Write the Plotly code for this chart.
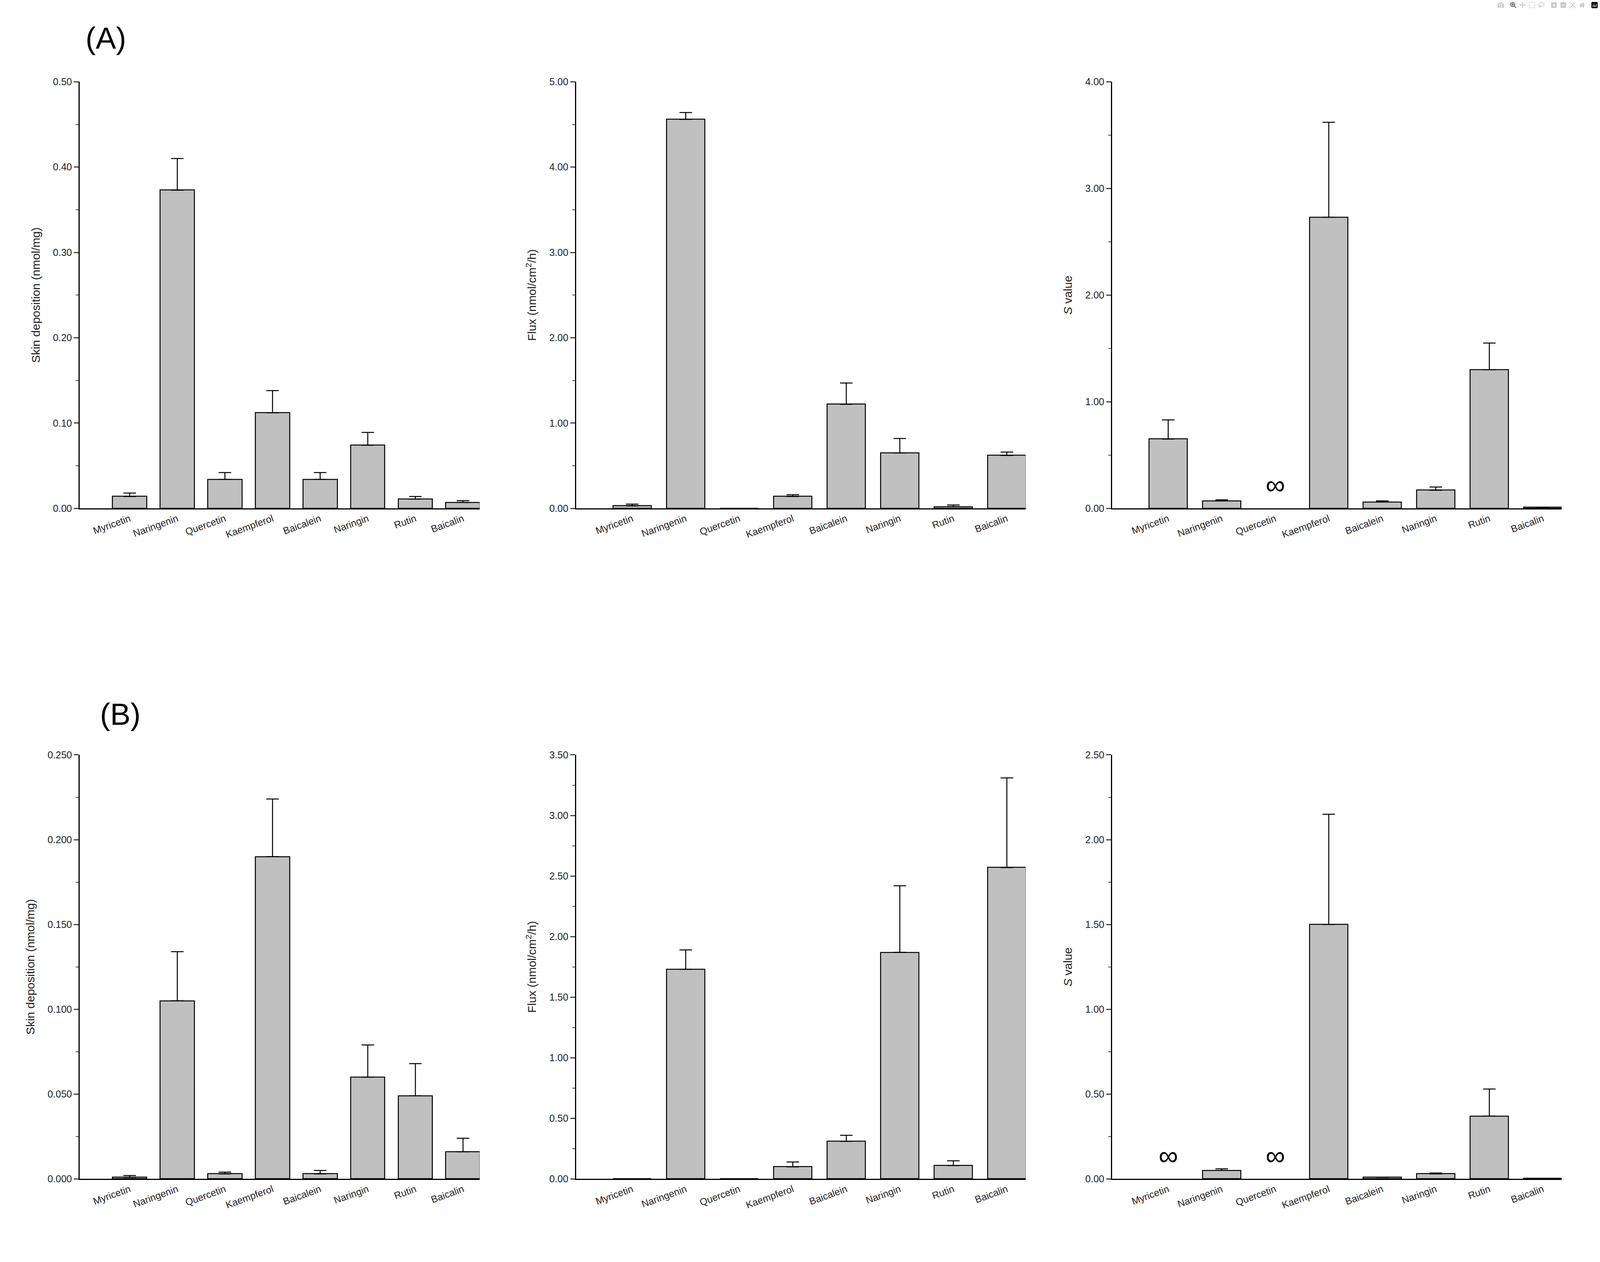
import plotly.graph_objects as go

cats = ["Myricetin","Naringenin","Quercetin","Kaempferol","Baicalein","Naringin","Rutin","Baicalin"]
a1 = [0.014,0.373,0.034,0.112,0.034,0.074,0.011,0.007]
a1e = [0.004,0.037,0.008,0.026,0.008,0.015,0.003,0.002]
a2 = [0.03,4.56,0,0.14,1.22,0.65,0.02,0.62]
a2e = [0.02,0.08,0,0.02,0.25,0.17,0.02,0.04]
a3 = [0.65,0.07,None,2.73,0.06,0.17,1.30,0.01]
a3e = [0.18,0.01,0,0.89,0.01,0.03,0.25,0]
b1 = [0.001,0.105,0.003,0.190,0.003,0.060,0.049,0.016]
b1e = [0.001,0.029,0.001,0.034,0.002,0.019,0.019,0.008]
b2 = [0,1.73,0,0.10,0.31,1.87,0.11,2.57]
b2e = [0,0.16,0,0.04,0.05,0.55,0.04,0.74]
b3 = [None,0.05,None,1.50,0.01,0.03,0.37,0.003]
b3e = [0,0.01,0,0.65,0,0.005,0.16,0]

panels = [
    (a1,a1e,"Skin deposition (nmol/mg)",0.5,0.1,".2f",[0.0498,0.2998],[0.598,0.939]),
    (a2,a2e,"Flux (nmol/cm<sup>2</sup>/h)",5,1,".2f",[0.360,0.641],[0.598,0.939]),
    (a3,a3e,"<i>S</i> value",4,1,".2f",[0.695,0.976],[0.598,0.939]),
    (b1,b1e,"Skin deposition (nmol/mg)",0.25,0.05,".3f",[0.0498,0.2998],[0.062,0.401]),
    (b2,b2e,"Flux (nmol/cm<sup>2</sup>/h)",3.5,0.5,".2f",[0.360,0.641],[0.062,0.401]),
    (b3,b3e,"<i>S</i> value",2.5,0.5,".2f",[0.695,0.976],[0.062,0.401]),
]

fig = go.Figure()
font = "Liberation Sans, Arial, sans-serif"
layout = {}
ann = []
for i,(v,e,title,ymax,dt,fmt,xd,yd) in enumerate(panels):
    n = "" if i == 0 else str(i+1)
    fig.add_trace(go.Bar(x=list(range(8)), y=v, width=0.72,
        marker=dict(color="#c0c0c0", line=dict(color="black", width=2.5)),
        error_y=dict(type="data", symmetric=False, array=e, arrayminus=[0]*8,
                     color="black", thickness=2.5, width=16),
        xaxis="x"+n, yaxis="y"+n, showlegend=False))
    layout["xaxis"+n] = dict(domain=xd, anchor="y"+n, range=[-1.05,7.35],
        tickmode="array", tickvals=list(range(8)), ticktext=cats, tickangle=-20,
        ticks="", showline=True, linecolor="black", linewidth=2.5,
        tickfont=dict(size=25, family=font, color="#222"), showgrid=False, zeroline=False)
    layout["yaxis"+n] = dict(domain=yd, anchor="x"+n, range=[0,ymax], dtick=dt,
        tickformat=fmt, ticks="outside", ticklen=12, tickwidth=2.5, showline=True,
        linecolor="black", linewidth=2.5, showgrid=False, zeroline=False,
        minor=dict(ticks="outside", ticklen=7, tickwidth=2, dtick=dt/2),
        tickfont=dict(size=25, family=font, color="#222"),
        title=dict(text=title, font=dict(size=30, family=font, color="#222"), standoff=25))
    for j,val in enumerate(v):
        if val is None:
            ann.append(dict(x=j, y=ymax*0.055, xref="x"+n, yref="y"+n, text="∞",
                showarrow=False, font=dict(size=70, family=font, color="black")))

ann.append(dict(x=0.053, y=0.988, xref="paper", yref="paper", text="(A)", showarrow=False,
    xanchor="left", yanchor="top", font=dict(size=78, family=font, color="black")))
ann.append(dict(x=0.062, y=0.448, xref="paper", yref="paper", text="(B)", showarrow=False,
    xanchor="left", yanchor="top", font=dict(size=78, family=font, color="black")))

fig.update_layout(**layout, annotations=ann, autosize=True,
    margin=dict(l=0,r=0,t=0,b=0), plot_bgcolor="white", paper_bgcolor="white", bargap=0)
fig.write_html("out.html", default_width="100vw", default_height="100vh",
    post_script="document.body.style.margin='0';document.body.style.overflow='hidden';Plotly.Plots.resize(document.getElementById('{plot_id}'));")
